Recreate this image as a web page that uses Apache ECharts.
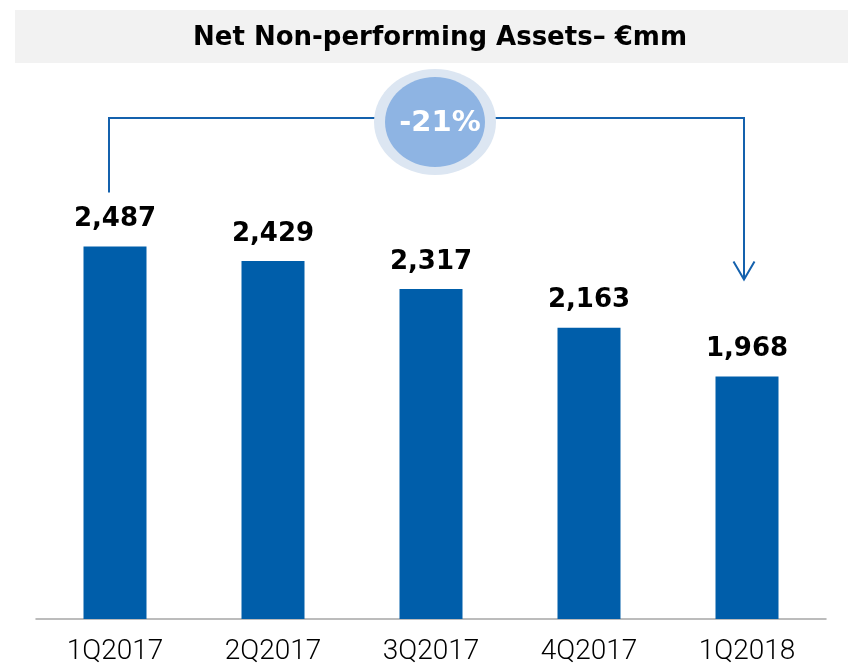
<!DOCTYPE html>
<html>
<head>
<meta charset="utf-8">
<script src="https://cdn.jsdelivr.net/npm/echarts@6/dist/echarts.min.js"></script>
<style>
html,body{margin:0;padding:0;background:#fff;}
#c{width:848px;height:666px;}
</style>
</head>
<body>
<div id="c"></div>
<script>
const categories = ['1Q2017', '2Q2017', '3Q2017', '4Q2017', '1Q2018'];
const values = [2487, 2429, 2317, 2163, 1968];
const changeLabel = '-21%';
const titleText = 'Net Non-performing Assets\u2013 \u20acmm';

const chart = echarts.init(document.getElementById('c'), null, {renderer: 'canvas'});
const BLUE = '#005EAA';
const yMin = 1000, yMax = 3000;

chart.setOption({
  animation: false,
  backgroundColor: '#ffffff',
  grid: {left: 36, right: 22, top: 118, bottom: 47, containLabel: false, outerBoundsMode: 'none'},
  xAxis: {
    type: 'category',
    data: categories,
    axisLine: {show: true, lineStyle: {color: '#a6a6a6', width: 1.5}},
    axisTick: {show: false},
    axisLabel: {
      color: '#000', fontSize: 28, fontFamily: 'Roboto',
      fontWeight: 300, margin: 19
    }
  },
  yAxis: {
    type: 'value', min: yMin, max: yMax, show: false, splitLine: {show: false}
  },
  series: [{
    type: 'bar',
    data: values,
    barWidth: 63,
    itemStyle: {color: BLUE},
    label: {
      show: true, position: 'top', distance: 14,
      color: '#000', fontSize: 26, fontWeight: 'bold', fontFamily: 'DejaVu Sans',
      formatter: p => p.value.toLocaleString('en-US')
    }
  }]
});

const first = chart.convertToPixel({seriesIndex: 0}, [0, values[0]]);
const last = chart.convertToPixel({seriesIndex: 0}, [values.length - 1, values[values.length - 1]]);
const topY = chart.convertToPixel({yAxisIndex: 0}, yMax);
const lx = first[0] - 6, rx = last[0] - 3;
const leftBottom = first[1] - 54;
const tipY = last[1] - 97;
const cx = (chart.convertToPixel({xAxisIndex: 0}, categories[2])) + 4;
const cy = topY + 4;

chart.setOption({
  graphic: [
    {type: 'rect', shape: {x: 15, y: 10, width: 833, height: 53}, style: {fill: '#f2f2f2'}, z: 0},
    {type: 'text', x: 440, y: 38, style: {text: titleText, fill: '#000', font: 'bold 26px "DejaVu Sans"', textAlign: 'center', textVerticalAlign: 'middle'}, z: 1},
    {type: 'polyline', shape: {points: [[lx, leftBottom], [lx, topY], [rx, topY], [rx, tipY]]},
     style: {stroke: '#1461ad', lineWidth: 2, fill: null}, z: 5},
    {type: 'polyline', shape: {points: [[rx - 10.5, tipY - 18], [rx, tipY], [rx + 10.5, tipY - 18]]},
     style: {stroke: '#1461ad', lineWidth: 2, fill: null}, z: 5},
    {type: 'ellipse', shape: {cx: cx, cy: cy, rx: 61, ry: 53}, style: {fill: '#dce6f2'}, z: 6},
    {type: 'ellipse', shape: {cx: cx, cy: cy, rx: 50, ry: 45}, style: {fill: '#8eb4e3'}, z: 7},
    {type: 'text', x: cx + 5, y: cy + 1, style: {text: changeLabel, fill: '#fff', font: 'bold 29px "DejaVu Sans"', textAlign: 'center', textVerticalAlign: 'middle'}, z: 8}
  ]
});
</script>
</body>
</html>
